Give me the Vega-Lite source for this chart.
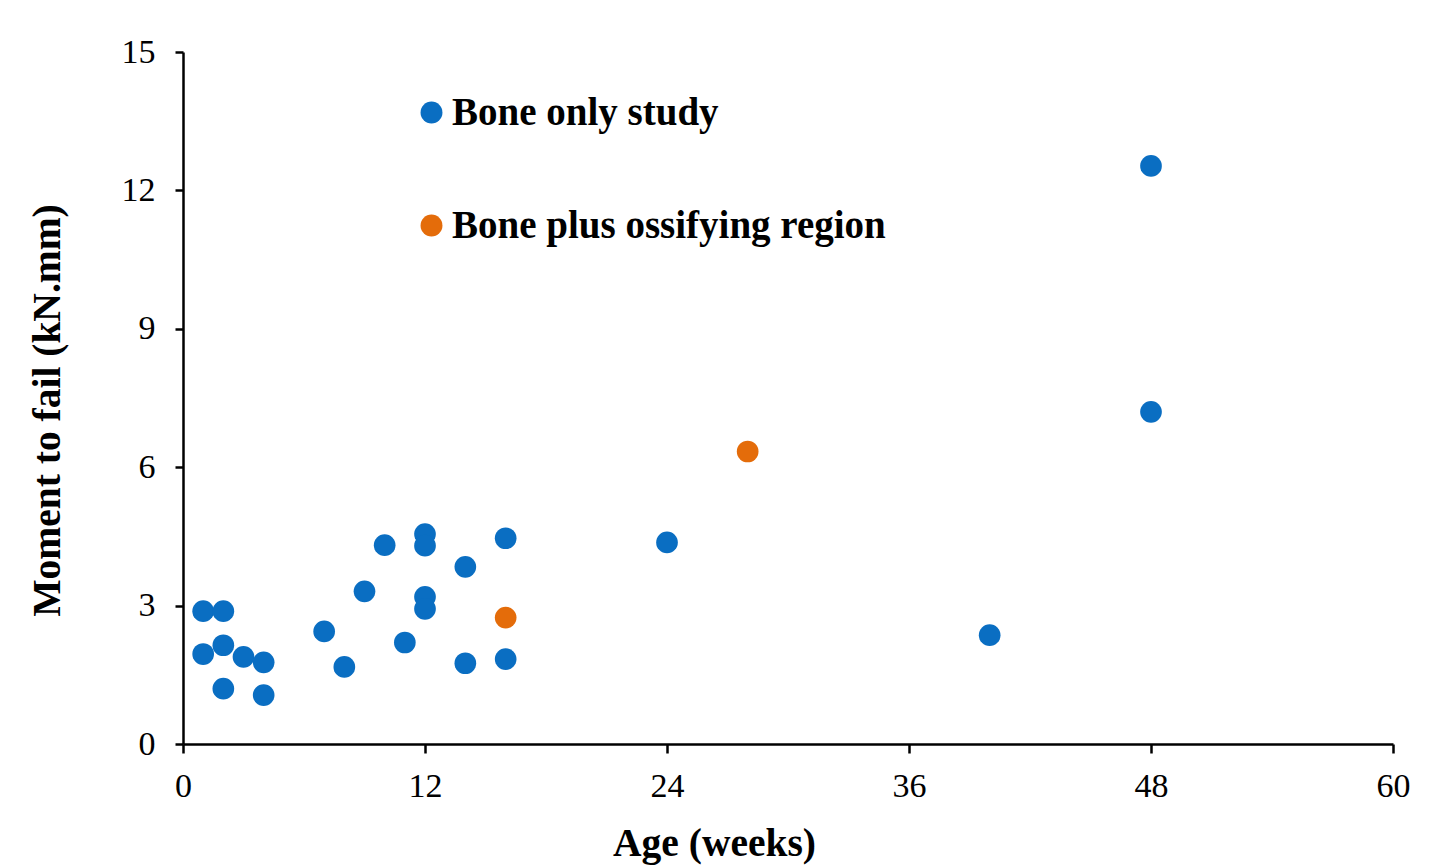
{
  "$schema": "https://vega.github.io/schema/vega-lite/v6.json",
  "autosize": "none",
  "width": 1210,
  "height": 692,
  "padding": {"left": 183, "top": 52, "right": 55, "bottom": 121},
  "background": "white",
  "config": {
    "view": {"stroke": null},
    "font": "Liberation Serif"
  },
  "data": {
    "values": [
      {"age": 1, "moment": 2.88, "group": "Bone only study"},
      {"age": 2, "moment": 2.88, "group": "Bone only study"},
      {"age": 1, "moment": 1.95, "group": "Bone only study"},
      {"age": 2, "moment": 2.14, "group": "Bone only study"},
      {"age": 3, "moment": 1.89, "group": "Bone only study"},
      {"age": 4, "moment": 1.77, "group": "Bone only study"},
      {"age": 2, "moment": 1.2, "group": "Bone only study"},
      {"age": 4, "moment": 1.06, "group": "Bone only study"},
      {"age": 7, "moment": 2.44, "group": "Bone only study"},
      {"age": 8, "moment": 1.67, "group": "Bone only study"},
      {"age": 9, "moment": 3.31, "group": "Bone only study"},
      {"age": 10, "moment": 4.31, "group": "Bone only study"},
      {"age": 11, "moment": 2.2, "group": "Bone only study"},
      {"age": 12, "moment": 4.55, "group": "Bone only study"},
      {"age": 12, "moment": 4.3, "group": "Bone only study"},
      {"age": 12, "moment": 3.19, "group": "Bone only study"},
      {"age": 12, "moment": 2.93, "group": "Bone only study"},
      {"age": 14, "moment": 3.84, "group": "Bone only study"},
      {"age": 14, "moment": 1.75, "group": "Bone only study"},
      {"age": 16, "moment": 4.46, "group": "Bone only study"},
      {"age": 16, "moment": 1.84, "group": "Bone only study"},
      {"age": 24, "moment": 4.37, "group": "Bone only study"},
      {"age": 40, "moment": 2.36, "group": "Bone only study"},
      {"age": 48, "moment": 7.2, "group": "Bone only study"},
      {"age": 48, "moment": 12.53, "group": "Bone only study"},
      {"age": 16, "moment": 2.74, "group": "Bone plus ossifying region"},
      {"age": 28, "moment": 6.34, "group": "Bone plus ossifying region"}
    ]
  },
  "mark": {"type": "circle", "size": 470, "opacity": 1},
  "encoding": {
    "x": {
      "field": "age",
      "type": "quantitative",
      "title": "Age (weeks)",
      "scale": {"domain": [0, 60], "nice": false, "zero": true},
      "axis": {
        "values": [0, 12, 24, 36, 48, 60],
        "grid": false,
        "labelFlush": false,
        "domainColor": "black",
        "domainWidth": 2.5,
        "tickColor": "black",
        "tickWidth": 2.5,
        "tickSize": 9,
        "labelFont": "Liberation Serif",
        "labelFontSize": 34,
        "labelColor": "black",
        "labelPadding": 16,
        "titleFont": "Liberation Serif",
        "titleFontSize": 39.5,
        "titleFontWeight": "bold",
        "titleColor": "black",
        "titlePadding": 21,
        "titleX": 531,
        "titleAlign": "center"
      }
    },
    "y": {
      "field": "moment",
      "type": "quantitative",
      "title": "Moment to fail (kN.mm)",
      "scale": {"domain": [0, 15], "nice": false},
      "axis": {
        "values": [0, 3, 6, 9, 12, 15],
        "grid": false,
        "labelFlush": false,
        "domainColor": "black",
        "domainWidth": 2.5,
        "tickColor": "black",
        "tickWidth": 2.5,
        "tickSize": 8,
        "labelFont": "Liberation Serif",
        "labelFontSize": 34,
        "labelColor": "black",
        "labelPadding": 20,
        "titleFont": "Liberation Serif",
        "titleFontSize": 39.5,
        "titleFontWeight": "bold",
        "titleColor": "black",
        "titlePadding": 54,
        "titleY": 358,
        "titleAlign": "center"
      }
    },
    "color": {
      "field": "group",
      "type": "nominal",
      "scale": {
        "domain": ["Bone only study", "Bone plus ossifying region"],
        "range": ["#0A6EC2", "#E46C0A"]
      },
      "legend": {
        "title": null,
        "orient": "none",
        "legendX": 229,
        "legendY": 41,
        "symbolType": "circle",
        "symbolSize": 480,
        "symbolOpacity": 1,
        "symbolStrokeWidth": 0,
        "labelFont": "Liberation Serif",
        "labelFontSize": 39,
        "labelFontWeight": "bold",
        "labelColor": "black",
        "labelOffset": 1,
        "rowPadding": 73,
        "labelLimit": 1000
      }
    }
  }
}
